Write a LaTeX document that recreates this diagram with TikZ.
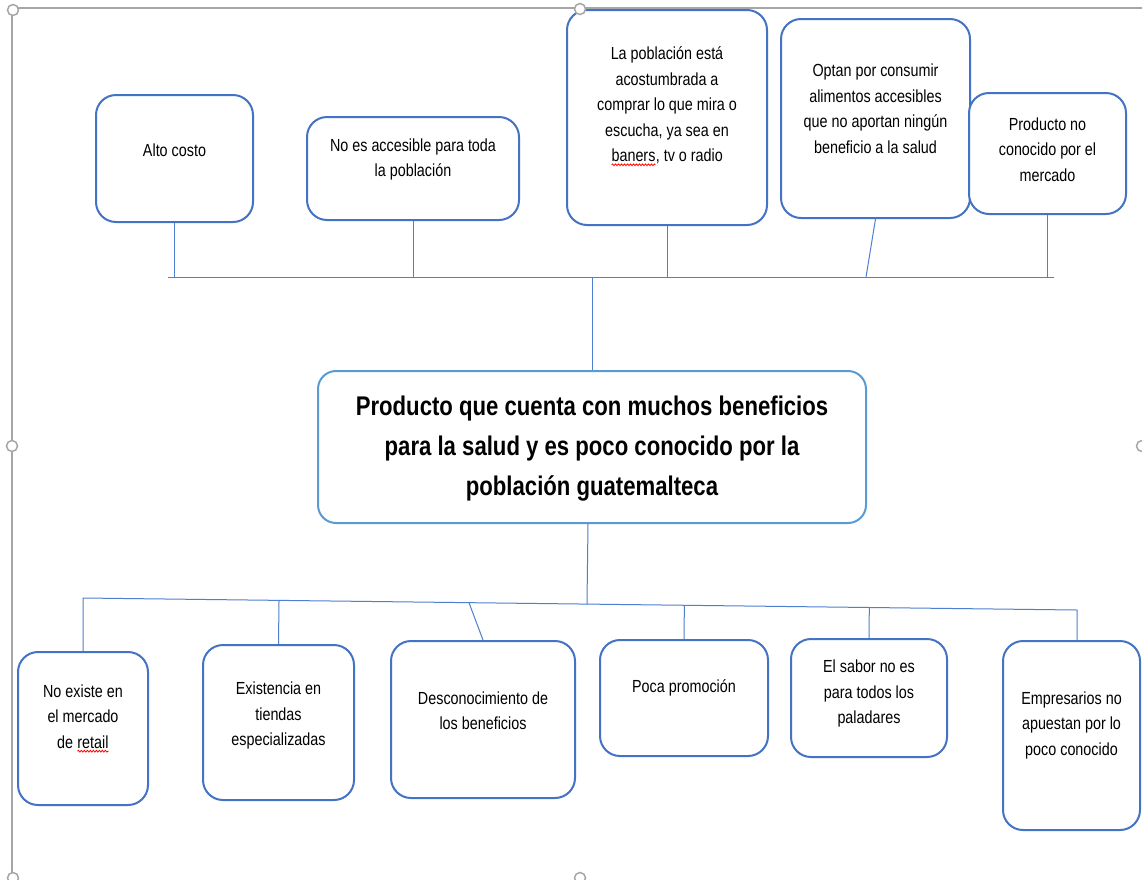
\documentclass[tikz,border=0pt]{standalone}
\usepackage{fontspec}
\setmainfont{Liberation Sans}[FakeStretch=0.82]
\usetikzlibrary{calc,decorations.pathmorphing}
\newcommand\spellerr[1]{\tikz[baseline=(sperr.base),x=1cm,y=1cm]{\node[inner sep=0pt,outer sep=0pt,anchor=base](sperr) at (0,0) {#1};\draw[red,line width=0.8pt,decorate,decoration={snake,amplitude=0.9pt,segment length=3pt}] ([yshift=-3pt]sperr.base west) -- ([yshift=-3pt]sperr.base east);}}
\definecolor{boxblue}{HTML}{4472C4}
\definecolor{mainblue}{HTML}{5B9BD5}
\definecolor{lineblue}{HTML}{4F7FCF}
\definecolor{framegray}{HTML}{A6A6A6}
\tikzset{
  box/.style={draw=boxblue, line width=2pt, rounded corners=20pt, fill=white, inner sep=0pt},
  mainbox/.style={draw=mainblue, line width=2pt, rounded corners=18pt, fill=white, inner sep=0pt},
  txt/.style={align=center, font=\fontsize{17.5}{25.5}\selectfont, inner sep=0pt, text=black},
  maintxt/.style={align=center, font=\fontsize{27}{40}\selectfont\bfseries, inner sep=0pt, text=black},
  conn/.style={draw=lineblue, line width=1pt},
  framel/.style={draw=framegray, line width=1.2pt},
  handle/.style={draw=framegray, line width=1.5pt, fill=white}
}
\begin{document}
\begin{tikzpicture}[x=1pt,y=-1pt]
\useasboundingbox (0,0) rectangle (1142,879);
\fill[white] (0,0) rectangle (1142,879);
% page frame
\draw[framel] (12,879) -- (12,8) -- (1142,8);

% top boxes
\node[box, minimum width=157pt, minimum height=127pt] (b1) at (174.5,158.5) {};
\node[box, minimum width=212pt, minimum height=103pt] (b2) at (413,168.5) {};
\node[box, minimum width=200pt, minimum height=215pt] (b3) at (667,117.5) {};
\node[box, minimum width=189pt, minimum height=199pt] (b4) at (875.5,118.5) {};
\node[box, minimum width=157pt, minimum height=121pt] (b5) at (1047.5,153.5) {};

\node[txt] (t1) at (174.5,150) {Alto costo};
\node[txt] (t2) at (413,159.5) {No es accesible para toda\\la población};
\node[txt] (t3) at (667,106.5) {La población está\\acostumbrada a\\comprar lo que mira o\\escucha, ya sea en\\\spellerr{baners}, tv o radio};
\node[txt] (t4) at (875.5,108.5) {Optan por consumir\\alimentos accesibles\\que no aportan ningún\\beneficio a la salud};
\node[txt] (t5) at (1047.5,149.5) {Producto no\\conocido por el\\mercado};

% central box
\node[mainbox, minimum width=548pt, minimum height=152pt] (ctr) at (592,447) {};
\node[maintxt] (tc) at (592,449) {Producto que cuenta con muchos beneficios\\para la salud y es poco conocido por la\\población guatemalteca};

% bottom boxes
\node[box, minimum width=130pt, minimum height=153pt] (c1) at (83,728.5) {};
\node[box, minimum width=151pt, minimum height=155pt] (c2) at (278.5,722.5) {};
\node[box, minimum width=184pt, minimum height=157pt] (c3) at (483,719.5) {};
\node[box, minimum width=168pt, minimum height=116pt] (c4) at (684,698) {};
\node[box, minimum width=156pt, minimum height=118pt] (c5) at (869,698) {};
\node[box, minimum width=137pt, minimum height=189pt] (c6) at (1071.5,735.5) {};

\node[txt] (s1) at (83,718.5) {No existe en\\el mercado\\de \spellerr{retail}};
\node[txt] (s2) at (278.5,715.5) {Existencia en\\tiendas\\especializadas};
\node[txt] (s3) at (483,710.5) {Desconocimiento de\\los beneficios};
\node[txt] (s4) at (684,688) {Poca promoción};
\node[txt] (s5) at (869,693.5) {El sabor no es\\para todos los\\paladares};
\node[txt] (s6) at (1071.5,725) {Empresarios no\\apuestan por lo\\poco conocido};

% top connectors
\coordinate (tbL) at (168,277);
\coordinate (tbR) at (1054,277);
\coordinate (j4) at (866,277);
\draw[conn] (tbL) -- (tbR);
\draw[conn] (b1.south) -- (b1.south |- tbL);
\draw[conn] (b2.south) -- (b2.south |- tbL);
\draw[conn] (b3.south) -- (b3.south |- tbL);
\draw[conn] (b4.south) -- (j4);
\draw[conn] (b5.south) -- (b5.south |- tbL);
\draw[conn] (ctr.north) -- (ctr.north |- tbL);

% bottom connectors
\coordinate (bbL) at (84,598);
\coordinate (bbR) at (1077,610);
\coordinate (cb) at (588,523);
\coordinate (j8) at (469,602.7);
\draw[conn] (c1.north) -- (c1.north |- bbL) -- (bbR) -- (bbR |- c6.north);
\draw[conn] (cb) -- ($(bbL)!(cb)!(bbR)$);
\draw[conn] (c2.north) -- ($(bbL)!(c2.north)!(bbR)$);
\draw[conn] (c3.north) -- (j8);
\draw[conn] (c4.north) -- ($(bbL)!(c4.north)!(bbR)$);
\draw[conn] (c5.north) -- ($(bbL)!(c5.north)!(bbR)$);

% selection handles
\foreach \p in {(13,10),(580,9),(12,446),(1142,446),(13,878),(580,878)}
  \draw[handle] \p circle[radius=5.5pt];
\end{tikzpicture}
\end{document}
